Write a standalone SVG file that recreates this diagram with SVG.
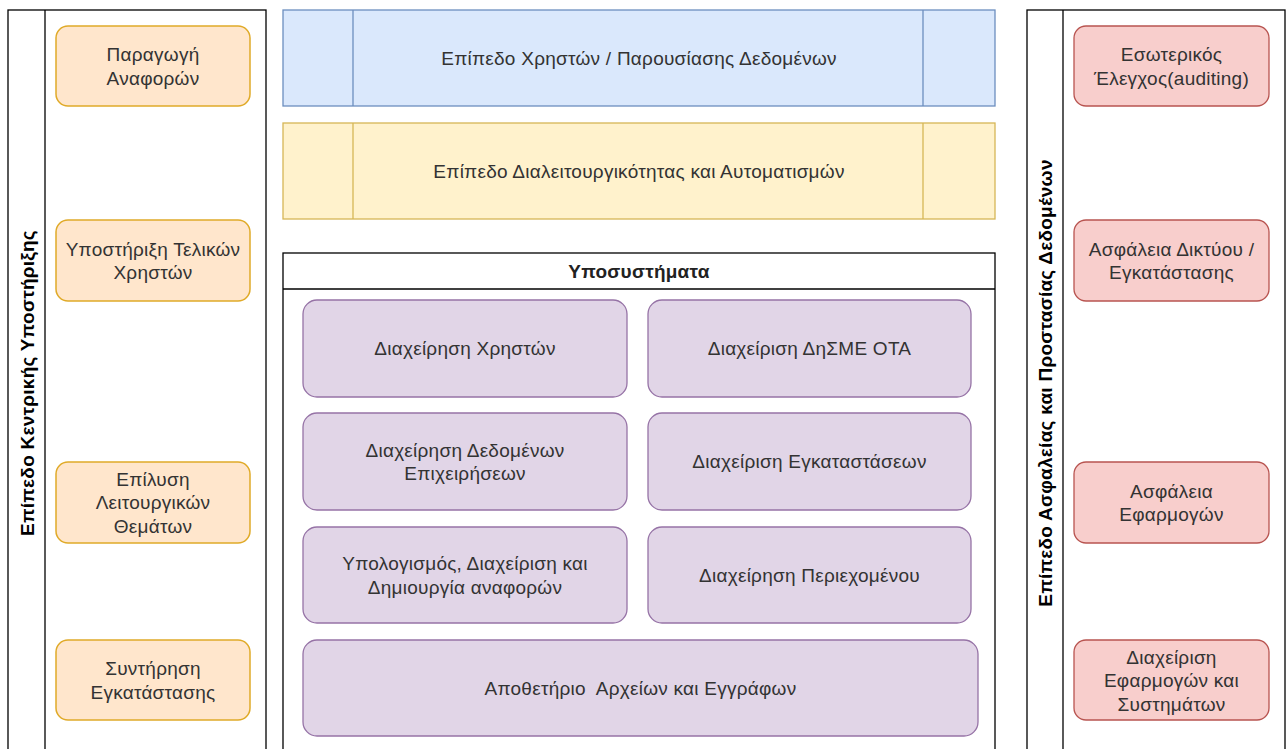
<svg xmlns="http://www.w3.org/2000/svg" width="1288" height="749" viewBox="0 0 1288 749">
<style>
text{font-family:"Liberation Sans",Arial,sans-serif;font-size:19px;letter-spacing:0.25px;fill:#333333;text-anchor:middle}
.title{font-weight:bold;fill:#000000}
.lane{fill:#ffffff;stroke:#000000;stroke-width:1.3}
.org{fill:#ffe6cc;stroke:#e0aa28;stroke-width:1.5}
.red{fill:#f8cecc;stroke:#b85450;stroke-width:1.3}
.pur{fill:#e1d5e7;stroke:#9673a6;stroke-width:1.3}
.blue{fill:#dae8fc;stroke:#6c8ebf;stroke-width:1.3}
.yel{fill:#fff2cc;stroke:#d6b656;stroke-width:1.3}
.sub{fill:#ffffff;stroke:#000000;stroke-width:1.3}
</style>
<rect width="1288" height="749" fill="#ffffff"/>
<g id="lane-left">
<rect class="lane" x="8" y="10" width="258" height="760"/>
<line x1="45" y1="10" x2="45" y2="770" stroke="#000" stroke-width="1.3"/>
<text class="title" transform="translate(34 383) rotate(-90)">Επίπεδο Κεντρικής Υποστήριξης</text>
</g>
<g id="lane-right">
<rect class="lane" x="1027" y="10" width="258" height="760"/>
<line x1="1063" y1="10" x2="1063" y2="770" stroke="#000" stroke-width="1.3"/>
<text class="title" transform="translate(1052 383) rotate(-90)">Επίπεδο Ασφαλείας και Προστασίας Δεδομένων</text>
</g>
<g id="n-paragogi"><rect class="org" x="56" y="26" width="194" height="80" rx="12"/><text x="153" y="61">Παραγωγή</text><text x="153" y="84.5">Αναφορών</text></g>
<g id="n-ypostirixi"><rect class="org" x="56" y="220" width="194" height="81" rx="12"/><text x="153" y="255.5">Υποστήριξη Τελικών</text><text x="153" y="279">Χρηστών</text></g>
<g id="n-epilysi"><rect class="org" x="56" y="462" width="194" height="81" rx="12"/><text x="153" y="485.7">Επίλυση</text><text x="153" y="509.2">Λειτουργικών</text><text x="153" y="532.7">Θεμάτων</text></g>
<g id="n-syntirisi"><rect class="org" x="56" y="640" width="194" height="80" rx="12"/><text x="153" y="675">Συντήρηση</text><text x="153" y="698.5">Εγκατάστασης</text></g>
<g id="n-auditing"><rect class="red" x="1074" y="26" width="195" height="80" rx="12"/><text x="1171.5" y="61">Εσωτερικός</text><text x="1171.5" y="84.5">Έλεγχος(auditing)</text></g>
<g id="n-diktyou"><rect class="red" x="1074" y="220" width="195" height="81" rx="12"/><text x="1171.5" y="255.5">Ασφάλεια Δικτύου /</text><text x="1171.5" y="279">Εγκατάστασης</text></g>
<g id="n-efarmogon"><rect class="red" x="1074" y="462" width="195" height="81" rx="12"/><text x="1171.5" y="497.5">Ασφάλεια</text><text x="1171.5" y="521">Εφαρμογών</text></g>
<g id="n-diaxeirisi-efarm"><rect class="red" x="1074" y="640" width="195" height="80" rx="12"/><text x="1171.5" y="663.5">Διαχείριση</text><text x="1171.5" y="687">Εφαρμογών και</text><text x="1171.5" y="710.5">Συστημάτων</text></g>
<g id="n-xriston-layer"><rect class="blue" x="283" y="10" width="712" height="96"/><line x1="353" y1="10" x2="353" y2="106" stroke="#6c8ebf" stroke-width="1.3"/><line x1="923" y1="10" x2="923" y2="106" stroke="#6c8ebf" stroke-width="1.3"/><text x="639" y="64.7">Επίπεδο Χρηστών / Παρουσίασης Δεδομένων</text></g>
<g id="n-dialeit-layer"><rect class="yel" x="283" y="123" width="712" height="96"/><line x1="353" y1="123" x2="353" y2="219" stroke="#d6b656" stroke-width="1.3"/><line x1="923" y1="123" x2="923" y2="219" stroke="#d6b656" stroke-width="1.3"/><text x="639" y="177.7">Επίπεδο Διαλειτουργικότητας και Αυτοματισμών</text></g>
<g id="n-ypósystimata">
<rect class="sub" x="283" y="253" width="712" height="520"/>
<line x1="283" y1="289" x2="995" y2="289" stroke="#000" stroke-width="1.3"/>
<text x="639" y="277.7" style="font-weight:bold;fill:#222">Υποσυστήματα</text>
</g>
<g id="n-xriston"><rect class="pur" x="303" y="300" width="324" height="97" rx="14"/><text x="465" y="355.2">Διαχείρηση Χρηστών</text></g>
<g id="n-dismе"><rect class="pur" x="648" y="300" width="323" height="97" rx="14"/><text x="809.5" y="355.2">Διαχείριση ΔηΣΜΕ ΟΤΑ</text></g>
<g id="n-dedomenon"><rect class="pur" x="303" y="413" width="324" height="97" rx="14"/><text x="465" y="456.5">Διαχείρηση Δεδομένων</text><text x="465" y="480">Επιχειρήσεων</text></g>
<g id="n-egkatastaseon"><rect class="pur" x="648" y="413" width="323" height="97" rx="14"/><text x="809.5" y="468.2">Διαχείριση Εγκαταστάσεων</text></g>
<g id="n-ypologismos"><rect class="pur" x="303" y="527" width="324" height="96" rx="14"/><text x="465" y="570">Υπολογισμός, Διαχείριση και</text><text x="465" y="593.5">Δημιουργία αναφορών</text></g>
<g id="n-periexomenou"><rect class="pur" x="648" y="527" width="323" height="96" rx="14"/><text x="809.5" y="581.7">Διαχείρηση Περιεχομένου</text></g>
<g id="n-apothetirio"><rect class="pur" x="303" y="640" width="675" height="96" rx="14"/><text x="640.5" y="694.7" xml:space="preserve">Αποθετήριο  Αρχείων και Εγγράφων</text></g>
<g id="connectors"></g>
</svg>
